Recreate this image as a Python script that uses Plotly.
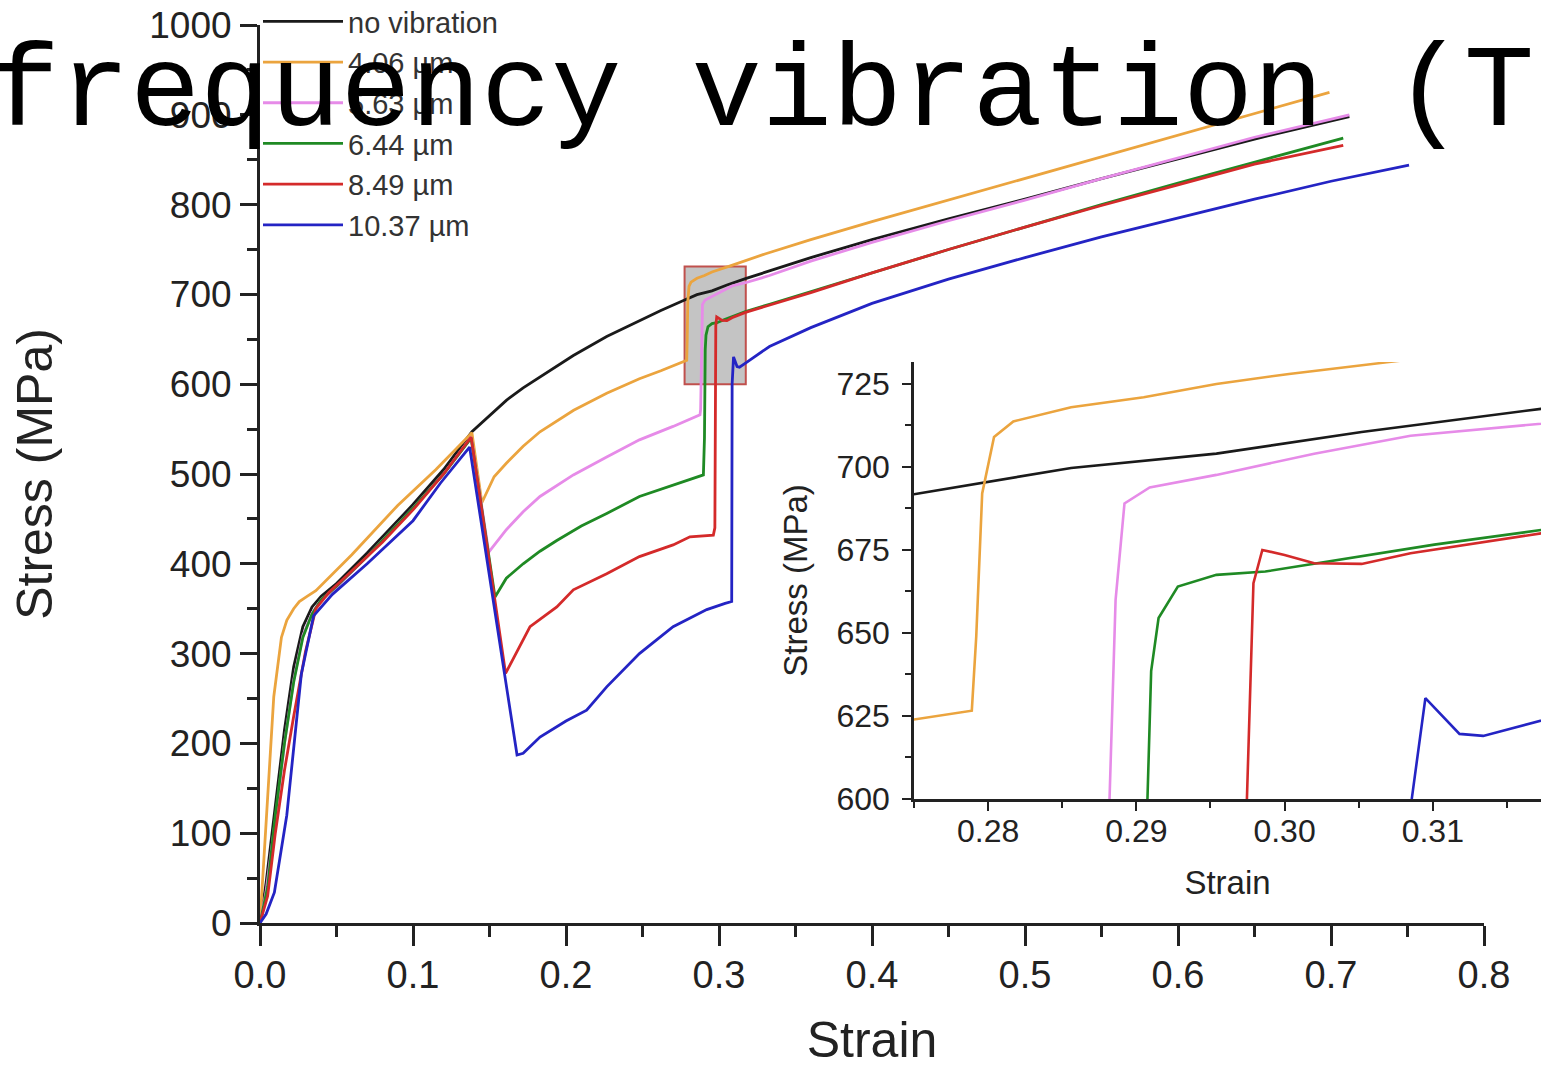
import plotly.graph_objects as go

# ---------------- data ----------------
series_names = ["no vibration", "4.06 µm", "5.63 µm", "6.44 µm", "8.49 µm", "10.37 µm"]
series_colors = ["#1a1a1a", "#EBA43E", "#E68BE8", "#1F8A24", "#D42A2A", "#2424C4"]

strain_none = [0, 0.004, 0.01, 0.016, 0.022, 0.028, 0.034, 0.04, 0.05, 0.07, 0.1, 0.12, 0.1385, 0.15, 0.161,
               0.172, 0.183, 0.195, 0.2048, 0.2266, 0.248, 0.262, 0.2753, 0.2856, 0.2954, 0.3052, 0.3173,
               0.333, 0.36, 0.4, 0.45, 0.5, 0.55, 0.6, 0.65, 0.712]
stress_none = [0, 45, 130, 215, 285, 330, 352, 364, 378, 412, 466, 505, 547, 565, 582,
               596, 608, 621, 632, 653, 671, 682, 692, 699.7, 704, 710.5, 717.5,
               726, 741, 761, 784, 806, 829, 851, 873, 898]

strain_406 = [0, 0.004, 0.009, 0.014, 0.0175, 0.022, 0.0257, 0.031, 0.0365, 0.06, 0.09, 0.115, 0.1385, 0.145,
              0.153, 0.161, 0.172, 0.183, 0.195, 0.205, 0.2266, 0.248, 0.262, 0.2753, 0.2789, 0.2792,
              0.2796, 0.2804, 0.2817, 0.2856, 0.2905, 0.2954, 0.3003, 0.3069, 0.33, 0.36, 0.4, 0.45,
              0.5, 0.55, 0.6, 0.65, 0.699]
stress_406 = [0, 110, 252, 318, 337, 350, 358, 364, 370, 410, 465, 505, 546, 468,
              497, 512, 531, 547, 560, 571, 590, 606, 615, 624, 626.6, 649,
              692, 709, 713.7, 718, 721, 725, 728, 731.5, 745, 761, 781, 805,
              829, 853, 877, 901, 925]

strain_563 = [0, 0.004, 0.01, 0.016, 0.022, 0.028, 0.034, 0.04, 0.05, 0.07, 0.1, 0.12, 0.138, 0.1495,
              0.161, 0.172, 0.183, 0.195, 0.2048, 0.2266, 0.248, 0.27, 0.2876, 0.288, 0.2882, 0.2886,
              0.2892, 0.2909, 0.2954, 0.302, 0.3085, 0.3173, 0.333, 0.36, 0.4, 0.45, 0.5, 0.55, 0.6,
              0.65, 0.712]
stress_563 = [0, 35, 115, 200, 270, 320, 345, 360, 374, 408, 462, 500, 541, 413,
              438, 458, 475, 488, 499, 519, 538, 553, 566, 572, 600, 660,
              689, 693.8, 697.6, 704, 709.4, 713, 721, 737, 758, 782, 805, 829, 852,
              875, 900]

strain_644 = [0, 0.005, 0.01, 0.016, 0.022, 0.028, 0.034, 0.04, 0.05, 0.07, 0.1, 0.12, 0.138, 0.1536,
              0.161, 0.172, 0.183, 0.194, 0.21, 0.2266, 0.248, 0.27, 0.2898, 0.2905, 0.29075, 0.291,
              0.2915, 0.2928, 0.2954, 0.2987, 0.3036, 0.3101, 0.3173, 0.333, 0.36, 0.4, 0.45, 0.5,
              0.55, 0.6, 0.65, 0.708]
stress_644 = [0, 40, 120, 200, 268, 318, 344, 360, 375, 408, 462, 500, 540, 363,
              384, 400, 414, 426, 442, 456, 475, 488, 499, 540, 600, 638.5,
              654.5, 664, 667.5, 668.5, 672, 676.6, 681, 689, 703, 724, 750, 775,
              800, 824, 847, 874]

strain_849 = [0, 0.005, 0.01, 0.016, 0.022, 0.0297, 0.0365, 0.045, 0.06, 0.08, 0.1, 0.12, 0.138, 0.1605,
              0.1765, 0.194, 0.2048, 0.2266, 0.248, 0.27, 0.281, 0.292, 0.2963, 0.2973, 0.29746, 0.2979,
              0.2985, 0.3, 0.302, 0.3052, 0.3085, 0.3173, 0.333, 0.36, 0.4, 0.45, 0.5, 0.55, 0.6,
              0.65, 0.708]
stress_849 = [0, 30, 100, 170, 230, 302, 350, 368, 392, 424, 460, 500, 541, 278,
              330, 352, 371, 389, 408, 421, 430, 431, 432, 440, 600, 665,
              675, 673.5, 671, 670.8, 674, 680, 688, 702, 724, 750, 775, 799, 822,
              845, 866]

strain_1037 = [0, 0.004, 0.0094, 0.0175, 0.027, 0.035, 0.0473, 0.07, 0.1, 0.118, 0.137, 0.168, 0.172,
               0.183, 0.2, 0.2135, 0.2266, 0.248, 0.27, 0.292, 0.304, 0.3083, 0.30858, 0.3095, 0.3118,
               0.3134, 0.3173, 0.333, 0.36, 0.4, 0.45, 0.5, 0.55, 0.6, 0.65, 0.7, 0.751]
stress_1037 = [0, 10, 34, 120, 277, 342, 366, 400, 448, 490, 530, 187, 189,
               207, 225, 237, 263, 300, 330, 349, 356, 358, 600, 630.4, 619.6,
               619, 623.5, 642, 663, 690, 717, 741, 764, 785, 806, 826, 844]

strains = [strain_none, strain_406, strain_563, strain_644, strain_849, strain_1037]
stresses = [stress_none, stress_406, stress_563, stress_644, stress_849, stress_1037]

main_x_ticks = [0.0, 0.1, 0.2, 0.3, 0.4, 0.5, 0.6, 0.7, 0.8]
main_y_ticks = [0, 100, 200, 300, 400, 500, 600, 700, 800, 900, 1000]
inset_x_ticks = [0.28, 0.29, 0.30, 0.31]
inset_y_ticks = [600, 625, 650, 675, 700, 725]
zoom_strain = [0.2775, 0.3175]
zoom_stress = [600, 731]

title_text = "Acoustic effect by<br>frequency vibration (Ti)"

# ---------------- figure ----------------
W, H = 1541, 1068
fig = go.Figure()

for name, col, xs, ys in zip(series_names, series_colors, strains, stresses):
    fig.add_trace(go.Scatter(x=xs, y=ys, mode="lines", name=name,
                             line=dict(color=col, width=2.8), xaxis="x", yaxis="y"))
for name, col, xs, ys in zip(series_names, series_colors, strains, stresses):
    fig.add_trace(go.Scatter(x=xs, y=ys, mode="lines", name=name, showlegend=False,
                             line=dict(color=col, width=2.6), xaxis="x2", yaxis="y2"))

fig.add_shape(type="rect", xref="x", yref="y",
              x0=zoom_strain[0], x1=zoom_strain[1], y0=zoom_stress[0], y1=zoom_stress[1],
              fillcolor="#c4c4c4", line=dict(color="#c0504d", width=2), layer="below")

font_main = "Arial, Liberation Sans, sans-serif"
axcol = "#222222"

def px_x(p):
    return p / W

def px_y(p):
    return 1 - p / H

fig.update_layout(
    width=W, height=H, autosize=False,
    margin=dict(l=0, r=0, t=0, b=0, pad=0, autoexpand=False),
    paper_bgcolor="white", plot_bgcolor="white",
    font=dict(family=font_main, color=axcol),
    title=dict(text=title_text, x=832 / W, xref="container", xanchor="center",
               y=1.0, yref="container", yanchor="bottom", pad=dict(b=27),
               font=dict(family="Courier New, Liberation Mono, monospace", size=117, color="black")),
    showlegend=True,
    legend=dict(x=px_x(258), y=1 + 4 / H, xanchor="left", yanchor="top", bgcolor="rgba(0,0,0,0)",
                font=dict(size=29, family=font_main, color="#333"), itemwidth=80,
                tracegroupgap=0),
    xaxis=dict(domain=[px_x(260), px_x(1484)], range=[0, 0.8], tickvals=main_x_ticks,
               tickformat=".1f", ticks="outside", ticklen=20, tickwidth=2.5, tickcolor=axcol,
               minor=dict(dtick=0.05, ticks="outside", ticklen=11, tickwidth=2.5, tickcolor=axcol),
               showline=True, linewidth=3, linecolor=axcol, showgrid=False, zeroline=False,
               tickfont=dict(size=38), anchor="y", ticklabelstandoff=-4,
               title=dict(text="Strain", font=dict(size=50), standoff=32)),
    yaxis=dict(domain=[px_y(923), px_y(25)], range=[0, 1000], tickvals=main_y_ticks,
               ticks="outside", ticklen=17, tickwidth=2.5, tickcolor=axcol,
               minor=dict(dtick=50, ticks="outside", ticklen=10, tickwidth=2.5, tickcolor=axcol),
               showline=True, linewidth=3, linecolor=axcol, showgrid=False, zeroline=False,
               tickfont=dict(size=37), anchor="x", ticklabelstandoff=1,
               title=dict(text="Stress (MPa)", font=dict(size=50), standoff=81)),
    xaxis2=dict(domain=[px_x(914), 1.0], range=[0.275, 0.3173], tickvals=inset_x_ticks,
                tickformat=".2f", ticks="outside", ticklen=9, tickwidth=2, tickcolor=axcol,
                minor=dict(dtick=0.005, ticks="outside", ticklen=6, tickwidth=2, tickcolor=axcol),
                showline=True, linewidth=2.5, linecolor=axcol, showgrid=False, zeroline=False,
                tickfont=dict(size=32), anchor="y2", ticklabelstandoff=-7,
                title=dict(text="Strain", font=dict(size=33), standoff=23)),
    yaxis2=dict(domain=[px_y(799), px_y(362)], range=[600, 731.6], tickvals=inset_y_ticks,
                ticks="outside", ticklen=9, tickwidth=2, tickcolor=axcol,
                minor=dict(dtick=12.5, ticks="outside", ticklen=6, tickwidth=2, tickcolor=axcol),
                showline=True, linewidth=2.5, linecolor=axcol, showgrid=False, zeroline=False,
                tickfont=dict(size=32), anchor="x2", ticklabelstandoff=6,
                title=dict(text="Stress (MPa)", font=dict(size=33), standoff=19)),
)

fig.write_html("out.html")
